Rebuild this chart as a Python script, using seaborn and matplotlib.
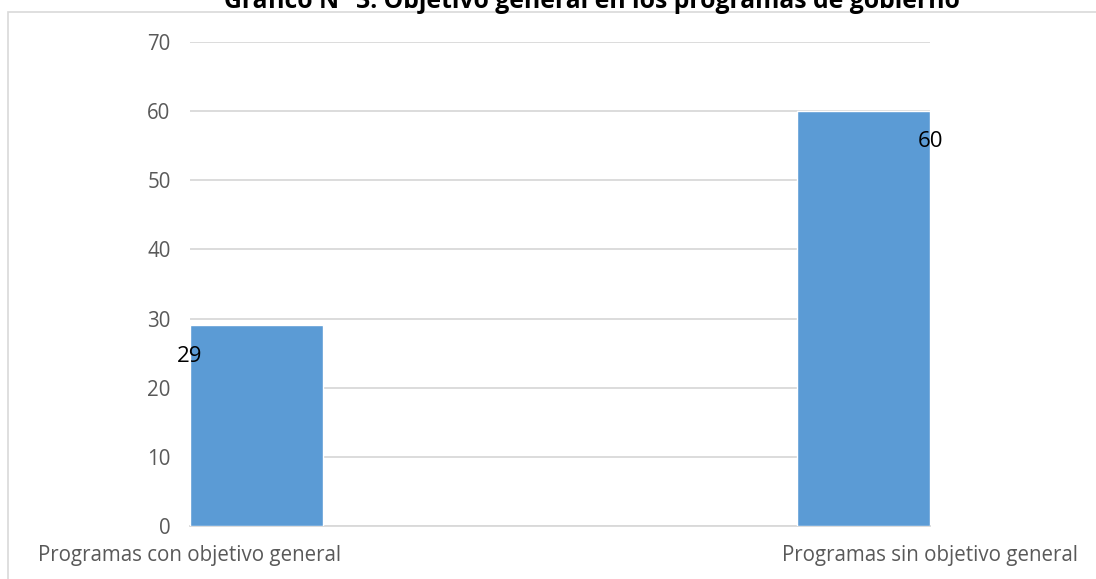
import matplotlib.pyplot as plt
import pandas as pd
import seaborn as sns
from matplotlib.patches import Rectangle

categorias = ["Programas con objetivo general", "Programas sin objetivo general"]
valores = [29, 60]
y_ticks = [0, 10, 20, 30, 40, 50, 60, 70]
titulo = "Gráfico N° 3. Objetivo general en los programas de gobierno"

df = pd.DataFrame({"categoria": categorias, "valor": valores})

sns.set_style("white")
plt.rcParams["font.family"] = ["Open Sans", "DejaVu Sans"]

fig = plt.figure(figsize=(10.96, 5.79), dpi=100)
ax = fig.add_axes([0.1734, 0.0915, 0.6752, 0.836])

# marco gris del gráfico
fig.patches.append(Rectangle((8 / 1096, -0.1), 1.2, 1 - 12 / 579 + 0.1,
                             transform=fig.transFigure, fill=False,
                             edgecolor="#d9d9d9", linewidth=1.2, zorder=0))

w = 0.219
sns.barplot(data=df, x="categoria", y="valor", color="#5B9BD5", width=w,
            saturation=1, ax=ax, zorder=3)

ax.set_xlim(-w / 2, 1 + w / 2)
ax.set_ylim(0, 70)
ax.set_yticks(y_ticks)
ax.yaxis.grid(True, color="#d9d9d9", linewidth=1.3, zorder=0)
ax.set_axisbelow(True)
for s in ["top", "right", "left"]:
    ax.spines[s].set_visible(False)
ax.spines["bottom"].set_color("#d9d9d9")
ax.spines["bottom"].set_linewidth(1.3)

ax.set_xticks([-w / 2, 1 + w / 2])
ax.set_xticklabels(categorias)
ax.tick_params(axis="x", length=0, pad=14, labelsize=14.8, labelcolor="#595959")
ax.tick_params(axis="y", length=0, pad=14, labelsize=14.8, labelcolor="#595959")
ax.set_xlabel("")
ax.set_ylabel("")

# etiquetas de datos
for xpos, v in zip([-w / 2, 1 + w / 2], valores):
    ax.annotate(str(v), (xpos, v), xytext=(0, -22), textcoords="offset points",
                ha="center", va="center", fontsize=16, color="black",
                annotation_clip=False, zorder=5)

fig.text(0.54, 1 - 8 / 579, titulo, ha="center", va="baseline",
         fontsize=17.8, fontweight="bold", color="black")

fig.savefig("out.png", dpi=100)
